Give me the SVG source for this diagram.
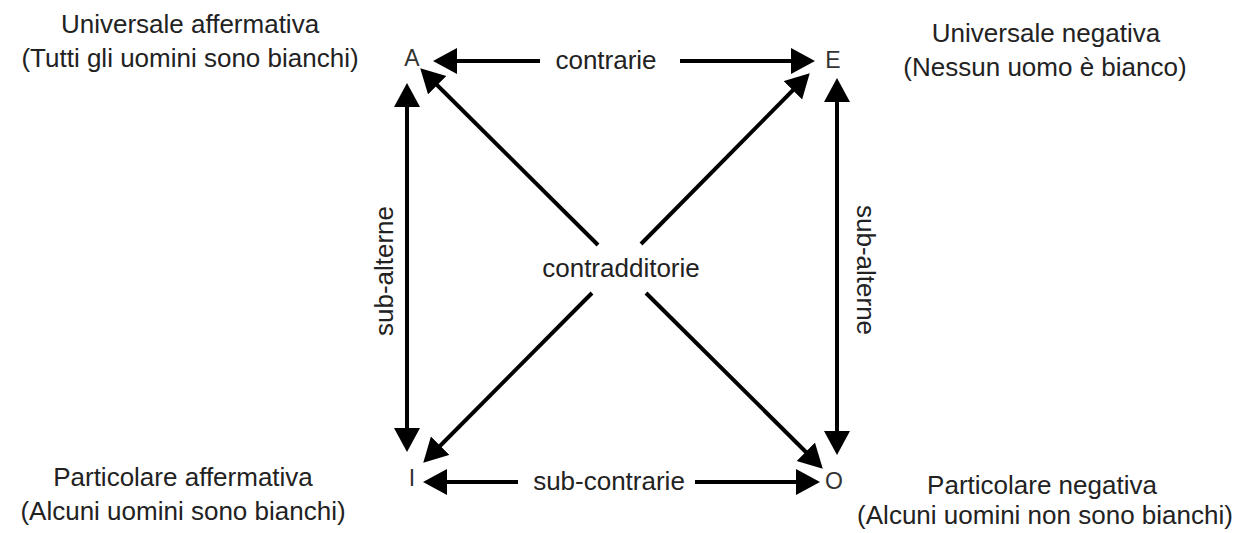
<svg xmlns="http://www.w3.org/2000/svg" width="1244" height="533" viewBox="0 0 1244 533">
  <defs>
    <marker id="ah" markerUnits="userSpaceOnUse" markerWidth="28" markerHeight="28" refX="13" refY="13" orient="auto-start-reverse" viewBox="0 0 28 28">
      <path d="M0,0 L24,13 L0,26 Z" fill="#000"/>
    </marker>
    <style>
      .t { font-family: "Liberation Sans", Arial, sans-serif; fill: #222; }
      .corner { font-size: 26px; text-anchor: middle; }
      .lab { font-size: 26px; text-anchor: middle; }
      .letter { font-size: 23px; text-anchor: middle; fill: #333; }
      .c { stroke: #000; stroke-width: 4; fill: none; }
      .e { marker-end: url(#ah); }
      .s { marker-start: url(#ah); }
    </style>
  </defs>
  <rect width="1244" height="533" fill="#fff"/>

  <g id="connectors">
    <!-- contrarie A <-> E -->
    <line class="c s" x1="444" y1="61" x2="540" y2="61"/>
    <line class="c e" x1="680" y1="61" x2="804" y2="61"/>
    <!-- sub-contrarie I <-> O -->
    <line class="c s" x1="434" y1="482" x2="518" y2="482"/>
    <line class="c e" x1="695" y1="482" x2="809" y2="482"/>
    <!-- sub-alterne A <-> I -->
    <line class="c s e" x1="407" y1="94" x2="407" y2="441"/>
    <!-- sub-alterne E <-> O -->
    <line class="c s e" x1="837" y1="89" x2="837" y2="444"/>
    <!-- contradditorie A <-> O -->
    <line class="c s" x1="428" y1="76" x2="598" y2="245"/>
    <line class="c e" x1="646" y1="293" x2="815" y2="461"/>
    <!-- contradditorie E <-> I -->
    <line class="c e" x1="641" y1="244" x2="802" y2="81"/>
    <line class="c e" x1="592" y1="293" x2="431" y2="455"/>
    <!-- connector labels -->
    <text class="t lab" x="606" y="69">contrarie</text>
    <text class="t lab" x="609" y="490">sub-contrarie</text>
    <text class="t lab" x="621" y="277">contradditorie</text>
    <text class="t lab" transform="translate(393,271) rotate(-90)">sub-alterne</text>
    <text class="t lab" transform="translate(857,270) rotate(90)">sub-alterne</text>
  </g>

  <g id="node-A">
    <text class="t letter" x="412" y="66">A</text>
    <text class="t corner" x="190" y="33">Universale affermativa</text>
    <text class="t corner" x="190" y="67">(Tutti gli uomini sono bianchi)</text>
  </g>
  <g id="node-E">
    <text class="t letter" x="833" y="68">E</text>
    <text class="t corner" x="1046" y="42">Universale negativa</text>
    <text class="t corner" x="1045" y="76">(Nessun uomo è bianco)</text>
  </g>
  <g id="node-I">
    <text class="t letter" x="412" y="486">I</text>
    <text class="t corner" x="183" y="486">Particolare affermativa</text>
    <text class="t corner" x="183" y="520">(Alcuni uomini sono bianchi)</text>
  </g>
  <g id="node-O">
    <text class="t letter" x="834" y="489">O</text>
    <text class="t corner" x="1042" y="494">Particolare negativa</text>
    <text class="t corner" x="1045" y="524">(Alcuni uomini non sono bianchi)</text>
  </g>
</svg>
